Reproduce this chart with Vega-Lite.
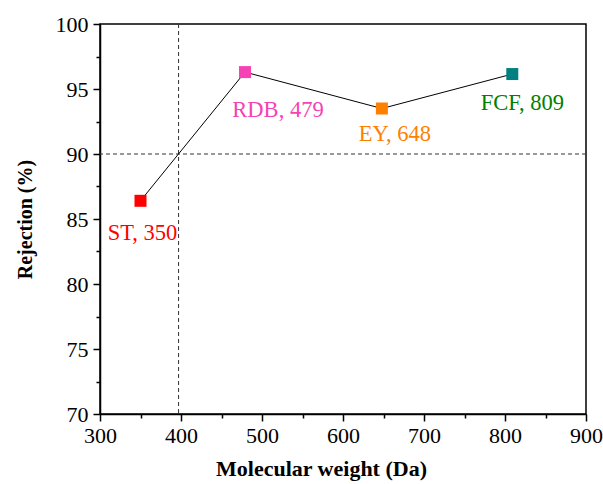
{
  "$schema": "https://vega.github.io/schema/vega-lite/v6.json",
  "autosize": "none",
  "padding": {"left": 100, "top": 24, "right": 17, "bottom": 70},
  "width": 486,
  "height": 390,
  "config": {
    "font": "Times New Roman, Liberation Serif, serif",
    "text": {"font": "Times New Roman, Liberation Serif, serif"},
    "view": {"stroke": "black", "strokeWidth": 1.5},
    "axis": {
      "grid": false,
      "labelFlush": false,
      "labelOverlap": false,
      "domainColor": "black",
      "domainWidth": 1.5,
      "tickColor": "black",
      "tickWidth": 1.5,
      "labelFont": "Times New Roman, Liberation Serif, serif",
      "labelFontSize": 22,
      "labelColor": "black",
      "titleFont": "Times New Roman, Liberation Serif, serif",
      "titleFontSize": 20,
      "titleFontWeight": "bold",
      "titleColor": "black"
    }
  },
  "datasets": {
    "pts": [
      {"dye": "ST", "mw": 350, "rej": 86.4, "label": "ST, 350"},
      {"dye": "RDB", "mw": 479, "rej": 96.3, "label": "RDB, 479"},
      {"dye": "EY", "mw": 648, "rej": 93.5, "label": "EY, 648"},
      {"dye": "FCF", "mw": 809, "rej": 96.15, "label": "FCF, 809"}
    ]
  },
  "data": {"name": "pts"},
  "layer": [
    {
      "data": {"values": [{"y": 90}]},
      "mark": {"type": "rule", "strokeDash": [4, 3], "strokeWidth": 1, "color": "#333333"},
      "encoding": {"y": {"field": "y", "type": "quantitative", "scale": {"domain": [70, 100], "nice": false, "zero": false}, "axis": {"values": [70, 75, 80, 85, 90, 95, 100], "title": "Rejection (%)", "tickSize": 7, "labelPadding": 5, "titlePadding": 20, "orient": "left"}}}
    },
    {
      "data": {"values": [{"x": 397}]},
      "mark": {"type": "rule", "strokeDash": [4, 3], "strokeWidth": 1, "color": "#333333"},
      "encoding": {"x": {"field": "x", "type": "quantitative", "scale": {"domain": [300, 900], "nice": false, "zero": false}, "axis": {"values": [300, 400, 500, 600, 700, 800, 900], "title": "Molecular weight (Da)", "titleFontSize": 22, "titleX": 221, "tickSize": 7, "labelPadding": 4, "titlePadding": 12, "orient": "bottom"}}}
    },
    {
      "mark": {"type": "line", "color": "black", "strokeWidth": 1},
      "encoding": {
        "x": {"field": "mw", "type": "quantitative", "scale": {"domain": [300, 900], "nice": false, "zero": false}, "axis": {"values": [350, 450, 550, 650, 750, 850], "labels": false, "domain": false, "tickSize": 4, "title": null, "orient": "bottom"}},
        "y": {"field": "rej", "type": "quantitative", "scale": {"domain": [70, 100], "nice": false, "zero": false}, "axis": {"values": [72.5, 77.5, 82.5, 87.5, 92.5, 97.5], "labels": false, "domain": false, "tickSize": 4, "title": null, "orient": "left"}}
      }
    },
    {
      "mark": {"type": "square", "size": 144, "opacity": 1},
      "encoding": {
        "x": {"field": "mw", "type": "quantitative", "axis": null},
        "y": {"field": "rej", "type": "quantitative", "axis": null},
        "color": {"field": "dye", "type": "nominal", "legend": null, "scale": {"domain": ["ST", "RDB", "EY", "FCF"], "range": ["#ff0000", "#f542b4", "#ff8000", "#008080"]}}
      }
    },
    {
      "transform": [{"filter": "datum.dye === 'ST'"}],
      "mark": {"type": "text", "fontSize": 22.5, "dx": 2, "dy": 32, "color": "#ff0000"},
      "encoding": {"x": {"field": "mw", "type": "quantitative", "axis": null}, "y": {"field": "rej", "type": "quantitative", "axis": null}, "text": {"field": "label"}}
    },
    {
      "transform": [{"filter": "datum.dye === 'RDB'"}],
      "mark": {"type": "text", "fontSize": 22.5, "dx": 33, "dy": 38, "color": "#f542b4"},
      "encoding": {"x": {"field": "mw", "type": "quantitative", "axis": null}, "y": {"field": "rej", "type": "quantitative", "axis": null}, "text": {"field": "label"}}
    },
    {
      "transform": [{"filter": "datum.dye === 'EY'"}],
      "mark": {"type": "text", "fontSize": 22.5, "dx": 13, "dy": 25, "color": "#ff8000"},
      "encoding": {"x": {"field": "mw", "type": "quantitative", "axis": null}, "y": {"field": "rej", "type": "quantitative", "axis": null}, "text": {"field": "label"}}
    },
    {
      "transform": [{"filter": "datum.dye === 'FCF'"}],
      "mark": {"type": "text", "fontSize": 22.5, "dx": 10, "dy": 29, "color": "#008000"},
      "encoding": {"x": {"field": "mw", "type": "quantitative", "axis": null}, "y": {"field": "rej", "type": "quantitative", "axis": null}, "text": {"field": "label"}}
    }
  ],
  "resolve": {"axis": {"x": "independent", "y": "independent"}}
}
